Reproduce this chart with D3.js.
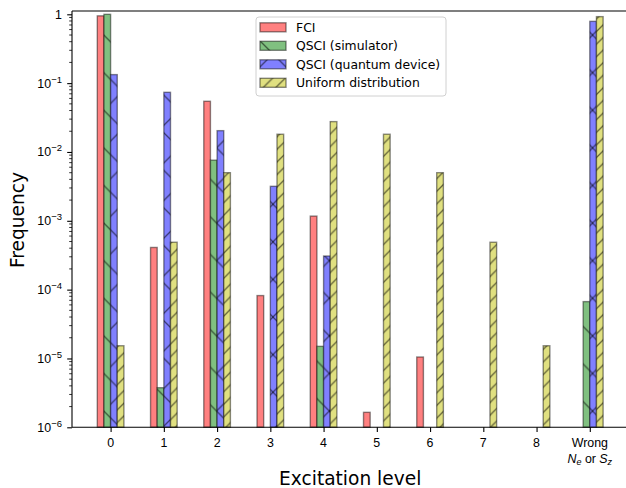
<!DOCTYPE html>
<html>
<head>
<meta charset="utf-8">
<script src="https://cdn.jsdelivr.net/npm/d3@7"></script>
<style>
  body { margin: 0; background: #fff; }
  svg { display: block; font-family: "DejaVu Sans", sans-serif; }
</style>
</head>
<body>
<script>
// excitation levels (index 9 = wrong Ne or Sz)
const levels = [0, 1, 2, 3, 4, 5, 6, 7, 8, 9];
const fci       = [0.95, 4.1e-4, 0.0545, 8.2e-5, 1.17e-3, 1.65e-6, 1.05e-5, null, null, null];
const qsciSim   = [1.0, 3.76e-6, 7.6e-3, null, 1.5e-5, null, null, null, null, 6.7e-5];
const qsciDev   = [0.133, 0.0736, 0.0204, 3.17e-3, 3.08e-4, null, null, null, null, 0.79];
const uniform   = [1.53e-5, 4.88e-4, 5.0e-3, 1.81e-2, 2.76e-2, 1.81e-2, 5.0e-3, 4.88e-4, 1.53e-5, 0.925];
const seriesNames = ["FCI", "QSCI (simulator)", "QSCI (quantum device)", "Uniform distribution"];
const yMajor = [1e-6, 1e-5, 1e-4, 1e-3, 1e-2, 1e-1, 1];

const width = 626, height = 488;
const margin = { top: 11, left: 72, bottom: 427.3, right: 628.4 };

const series = [
  { name: seriesNames[0], values: fci,     fill: "#ff8080", hatch: null },
  { name: seriesNames[1], values: qsciSim, fill: "#80c080", hatch: "url(#hatch-back)" },
  { name: seriesNames[2], values: qsciDev, fill: "#8080ff", hatch: "url(#hatch-x)" },
  { name: seriesNames[3], values: uniform, fill: "#e0e080", hatch: "url(#hatch-fwd)" }
];

const barW = 0.125;

const x = d3.scaleLinear().domain([-0.725, 9.725]).range([margin.left, margin.right]);
const y = d3.scaleLog().domain([1e-6, 1.117]).range([margin.bottom, margin.top]);

const svg = d3.select("body").append("svg")
  .attr("width", width)
  .attr("height", height);

// hatch patterns
const defs = svg.append("defs");
const P = 37.6, p = 12.6;
const hatchStroke = "rgba(0,0,0,0.55)";

defs.append("pattern")
  .attr("id", "hatch-back")
  .attr("patternUnits", "userSpaceOnUse")
  .attr("width", P).attr("height", P)
  .attr("patternTransform", "translate(9.75,16.25)")
  .append("path")
  .attr("d", `M0,0L${P},${P}M-2,${P - 2}L2,${P + 2}M${P - 2},-2L${P + 2},2`)
  .attr("stroke", hatchStroke).attr("stroke-width", 1.3);

const px = defs.append("pattern")
  .attr("id", "hatch-x")
  .attr("patternUnits", "userSpaceOnUse")
  .attr("width", P).attr("height", P)
  .attr("patternTransform", "translate(9.75,16.25)");
px.append("path")
  .attr("d", `M0,0L${P},${P}M-2,${P - 2}L2,${P + 2}M${P - 2},-2L${P + 2},2`)
  .attr("stroke", hatchStroke).attr("stroke-width", 1.3);
px.append("path")
  .attr("d", `M0,${P}L${P},0M-2,2L2,-2M${P - 2},${P + 2}L${P + 2},${P - 2}`)
  .attr("stroke", hatchStroke).attr("stroke-width", 1.3);

defs.append("pattern")
  .attr("id", "hatch-fwd")
  .attr("patternUnits", "userSpaceOnUse")
  .attr("width", p).attr("height", p)
  .attr("patternTransform", "translate(0,10.6)")
  .append("path")
  .attr("d", `M0,${p}L${p},0M-2,2L2,-2M${p - 2},${p + 2}L${p + 2},${p - 2}`)
  .attr("stroke", hatchStroke).attr("stroke-width", 1.3);

// bars
const plot = svg.append("g");
series.forEach((s, si) => {
  const data = levels.map((lv, i) => ({ lv, v: s.values[i] })).filter(d => d.v != null);
  const off = (si - 1.5) * barW;
  const g = plot.append("g");
  const bx = d => x(d.lv + off - barW / 2);
  const bw = x(barW) - x(0);
  g.selectAll("rect.fill").data(data).enter().append("rect")
    .attr("x", bx).attr("width", bw)
    .attr("y", d => y(d.v)).attr("height", d => y(1e-6) - y(d.v))
    .attr("fill", s.fill);
  if (s.hatch) {
    g.selectAll("rect.hatch").data(data).enter().append("rect")
      .attr("x", bx).attr("width", bw)
      .attr("y", d => y(d.v)).attr("height", d => y(1e-6) - y(d.v))
      .attr("fill", s.hatch);
  }
  g.selectAll("rect.edge").data(data).enter().append("rect")
    .attr("x", bx).attr("width", bw)
    .attr("y", d => y(d.v)).attr("height", d => y(1e-6) - y(d.v))
    .attr("fill", "none")
    .attr("stroke", "rgba(0,0,0,0.45)")
    .attr("stroke-width", 1.4);
});

// spines
svg.append("line").attr("x1", margin.left).attr("x2", margin.right)
  .attr("y1", margin.top).attr("y2", margin.top).attr("stroke", "#000").attr("stroke-width", 1.1);
svg.append("line").attr("x1", margin.right).attr("x2", margin.right)
  .attr("y1", margin.top).attr("y2", margin.bottom).attr("stroke", "#000").attr("stroke-width", 1.1);

// y axis
const yAxis = d3.axisLeft(y).tickValues(yMajor).tickSize(4.8).tickFormat("");
const minor = [];
for (let e = -6; e < 0; e++) for (let k = 2; k <= 9; k++) minor.push(k * Math.pow(10, e));
const yg = svg.append("g").attr("transform", `translate(${margin.left},0)`).call(yAxis);
yg.select(".domain").attr("stroke-width", 1.1).attr("d", `M0,${margin.top}V${margin.bottom}`);
yg.selectAll(".tick line").attr("stroke-width", 1.1);
yg.selectAll(".minor").data(minor).enter().append("line")
  .attr("class", "minor")
  .attr("x1", 0).attr("x2", -2.8)
  .attr("y1", d => y(d)).attr("y2", d => y(d))
  .attr("stroke", "#000").attr("stroke-width", 0.8);

yMajor.forEach(v => {
  const e = Math.round(Math.log10(v));
  const t = yg.append("text")
    .attr("x", -10).attr("y", y(v) + 4.4)
    .attr("text-anchor", "end")
    .attr("font-size", 12.4)
    .attr("fill", "#000");
  if (e === 0) {
    t.text("1");
  } else {
    t.append("tspan").text("10");
    t.append("tspan").attr("dy", -5).attr("font-size", 9.5).text("\u2212" + (-e));
  }
});

// x axis
const xAxis = d3.axisBottom(x).tickValues(levels).tickSize(4.8).tickFormat("");
const xg = svg.append("g").attr("transform", `translate(0,${margin.bottom})`).call(xAxis);
xg.select(".domain").attr("stroke-width", 1.1).attr("d", `M${margin.left},0H${margin.right}`);
xg.selectAll(".tick line").attr("stroke-width", 1.1);
levels.forEach(lv => {
  if (lv < 9) {
    xg.append("text").attr("x", x(lv)).attr("y", 20)
      .attr("text-anchor", "middle").attr("font-size", 12.4).attr("fill", "#000")
      .text(String(lv));
  } else {
    xg.append("text").attr("x", x(lv)).attr("y", 20)
      .attr("text-anchor", "middle").attr("font-size", 12.4).attr("fill", "#000")
      .text("Wrong");
    const t2 = xg.append("text").attr("x", x(lv)).attr("y", 35.5)
      .attr("text-anchor", "middle").attr("font-size", 12.4).attr("fill", "#000");
    t2.append("tspan").attr("font-style", "italic").text("N");
    t2.append("tspan").attr("font-style", "italic").attr("font-size", 9).attr("dy", 2.5).text("e");
    t2.append("tspan").attr("dy", -2.5).text(" or ");
    t2.append("tspan").attr("font-style", "italic").text("S");
    t2.append("tspan").attr("font-style", "italic").attr("font-size", 9).attr("dy", 2.5).text("z");
  }
});

// axis labels
svg.append("text")
  .attr("x", (margin.left + margin.right) / 2).attr("y", 484.5)
  .attr("text-anchor", "middle").attr("font-size", 18.6)
  .text("Excitation level");
svg.append("text")
  .attr("transform", `translate(24,220) rotate(-90)`)
  .attr("text-anchor", "middle").attr("font-size", 18.6)
  .text("Frequency");

// legend
const leg = svg.append("g");
leg.append("rect")
  .attr("x", 256).attr("y", 17).attr("width", 190).attr("height", 79)
  .attr("rx", 3).attr("fill", "rgba(255,255,255,0.8)")
  .attr("stroke", "#d0d0d0").attr("stroke-width", 1);
series.forEach((s, i) => {
  const cy = 27.3 + i * 18.5;
  leg.append("rect").attr("x", 260).attr("y", cy - 4.5).attr("width", 26).attr("height", 9)
    .attr("fill", s.fill);
  if (s.hatch) {
    leg.append("rect").attr("x", 260).attr("y", cy - 4.5).attr("width", 26).attr("height", 9)
      .attr("fill", s.hatch);
  }
  leg.append("rect").attr("x", 260).attr("y", cy - 4.5).attr("width", 26).attr("height", 9)
    .attr("fill", "none").attr("stroke", "rgba(0,0,0,0.45)").attr("stroke-width", 1.4);
  leg.append("text").attr("x", 296).attr("y", cy + 4.5)
    .attr("font-size", 12.4).attr("fill", "#000")
    .text(s.name);
});
</script>
</body>
</html>
